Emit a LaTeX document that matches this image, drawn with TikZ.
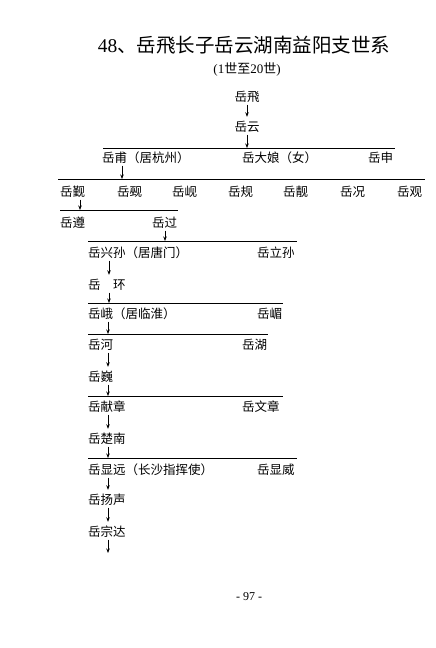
\documentclass[tikz,border=0pt]{standalone}
\usepackage{fontspec}
\setmainfont{Liberation Serif}
\newfontfamily\cjk{Noto Sans CJK SC}
\usetikzlibrary{arrows.meta}
\tikzset{
  lbl/.style={anchor=west, inner sep=0pt, text height=10.5pt, text depth=1.5pt, font=\cjk\fontsize{12.5}{13}\selectfont},
  lblc/.style={lbl, anchor=center},
  arr/.style={line width=0.7pt, -{Stealth[length=4.5pt,width=3.5pt]}, shorten <=1.5pt},
  arrn/.style={arr, shorten >=4pt},
  hline/.style={line width=0.9pt}
}
\begin{document}
\begin{tikzpicture}[x=1pt,y=-1pt]
\useasboundingbox (0,0) rectangle (436,648);
\fill[white] (0,0) rectangle (436,648);
% title
\node[inner sep=0pt] (title) at (244,45) {\fontsize{19.5}{22}\selectfont 48{\cjk 、岳飛长子岳云湖南益阳支世系}};
\node[inner sep=0pt] (sub) at (247,69) {\fontsize{13}{15}\selectfont (1{\cjk 世至}20{\cjk 世})};
% generation 1-2
\node[lblc] (fei) at (247,97) {岳飛};
\node[lblc] (yun) at (247,127) {岳云};
\draw[arrn] (fei.south) -- (yun.north);
\coordinate (l1a) at (103,148); \coordinate (l1b) at (395,148);
\draw[hline] (l1a) -- (l1b);
\draw[arr] (yun.south) -- (yun.south |- l1a);
% row 2
\node[lbl] (fu) at (102,158) {岳甫（居杭州）};
\node[lbl] (daniang) at (242,158) {岳大娘（女）};
\node[lbl] (shen) at (368,158) {岳申};
\coordinate (l2a) at (58,179); \coordinate (l2b) at (425,179);
\draw[hline] (l2a) -- (l2b);
\draw[arr] ([xshift=20pt]fu.south west) -- ([xshift=20pt]fu.south west |- l2a);
% row 3
\node[lbl] (jin) at (60,192) {岳觐};
\node[lbl] (xi) at (117,192) {岳觋};
\node[lbl] (xian) at (172,192) {岳岘};
\node[lbl] (gui) at (228,192) {岳规};
\node[lbl] (jing) at (283,192) {岳靓};
\node[lbl] (kuang) at (340,192) {岳况};
\node[lbl] (guan) at (397,192) {岳观};
\coordinate (l3a) at (60,210); \coordinate (l3b) at (178,210);
\draw[hline] (l3a) -- (l3b);
\draw[arr] ([xshift=20pt]jin.south west) -- ([xshift=20pt]jin.south west |- l3a);
% row 4
\node[lbl] (zun) at (60,223) {岳遵};
\node[lbl] (guo) at (152,223) {岳过};
\coordinate (l4a) at (88,241); \coordinate (l4b) at (297,241);
\draw[hline] (l4a) -- (l4b);
\draw[arr] ([xshift=13pt]guo.south west) -- ([xshift=13pt]guo.south west |- l4a);
% row 5
\node[lbl] (xingsun) at (88,253) {岳兴孙（居唐门）};
\node[lbl] (lisun) at (257,253) {岳立孙};
\node[lbl] (huan) at (88,285) {岳　环};
\draw[arrn] ([xshift=21pt]xingsun.south west) -- ([xshift=21pt]huan.north west);
\coordinate (l5a) at (88,303); \coordinate (l5b) at (283,303);
\draw[hline] (l5a) -- (l5b);
\draw[arr] ([xshift=21pt]huan.south west) -- ([xshift=21pt]huan.south west |- l5a);
% row 7
\node[lbl] (e) at (88,314) {岳峨（居临淮）};
\node[lbl] (mei) at (257,314) {岳嵋};
\coordinate (l6a) at (88,334); \coordinate (l6b) at (268,334);
\draw[hline] (l6a) -- (l6b);
\draw[arr] ([xshift=20pt]e.south west) -- ([xshift=20pt]e.south west |- l6a);
% row 8
\node[lbl] (he) at (88,345) {岳河};
\node[lbl] (hu) at (242,345) {岳湖};
\node[lbl] (wei) at (88,377) {岳巍};
\draw[arrn] ([xshift=20pt]he.south west) -- ([xshift=20pt]wei.north west);
\coordinate (l7a) at (88,396); \coordinate (l7b) at (283,396);
\draw[hline] (l7a) -- (l7b);
\draw[arr] ([xshift=20pt]wei.south west) -- ([xshift=20pt]wei.south west |- l7a);
% row 9
\node[lbl] (xianzhang) at (88,407) {岳献章};
\node[lbl] (wenzhang) at (242,407) {岳文章};
\node[lbl] (chunan) at (88,439) {岳楚南};
\draw[arrn] ([xshift=20pt]xianzhang.south west) -- ([xshift=20pt]chunan.north west);
\coordinate (l8a) at (88,458); \coordinate (l8b) at (297,458);
\draw[hline] (l8a) -- (l8b);
\draw[arr] ([xshift=20pt]chunan.south west) -- ([xshift=20pt]chunan.south west |- l8a);
% row 10
\node[lbl] (xianyuan) at (88,470) {岳显远（长沙指挥使）};
\node[lbl] (xianwei) at (257,470) {岳显威};
\node[lbl] (yangsheng) at (88,500) {岳扬声};
\node[lbl] (zongda) at (88,532) {岳宗达};
\draw[arrn] ([xshift=20pt]xianyuan.south west) -- ([xshift=20pt]yangsheng.north west);
\draw[arrn] ([xshift=20pt]yangsheng.south west) -- ([xshift=20pt]zongda.north west);
\coordinate (endc) at (108,553);
\draw[arr] ([xshift=20pt]zongda.south west) -- (endc);
% page number
\node[inner sep=0pt] (page) at (249,597) {\fontsize{12}{14}\selectfont - 97 -};
\end{tikzpicture}
\end{document}
